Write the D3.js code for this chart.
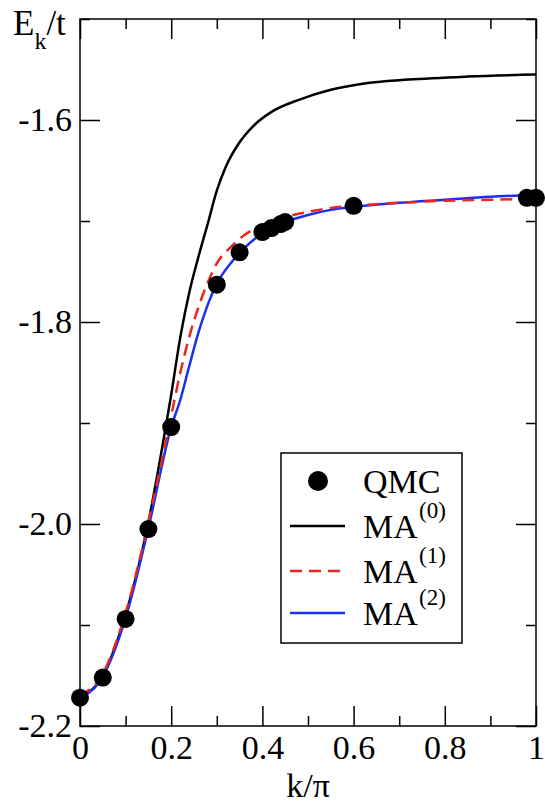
<!DOCTYPE html>
<html>
<head>
<meta charset="utf-8">
<script src="https://cdn.jsdelivr.net/npm/d3@7"></script>
</head>
<body style="margin:0; background:#fff">
<div id="chart-area"></div>
<script>
// QMC points
const qmcK = [0, 0.05, 0.1, 0.15, 0.2, 0.3, 0.35, 0.4, 0.42, 0.44, 0.45, 0.6, 0.98, 1.0]
const qmcE = [-2.172, -2.152, -2.094, -2.005, -1.904, -1.763, -1.731, -1.711, -1.707, -1.703, -1.701, -1.685, -1.677, -1.677]

// MA(0)
const ma0K = [0, 0.05, 0.1, 0.15, 0.18, 0.2, 0.22, 0.24, 0.26, 0.28, 0.3, 0.32, 0.35, 0.38, 0.42, 0.48, 0.55, 0.62, 0.72, 0.85, 1.0]
const ma0E = [-2.172, -2.150, -2.090, -1.998, -1.925, -1.872, -1.815, -1.770, -1.735, -1.703, -1.670, -1.646, -1.622, -1.606, -1.592, -1.580, -1.570, -1.564, -1.560, -1.557, -1.555]

// MA(1) and MA(2)
const maK = [0, 0.05, 0.1, 0.15, 0.2, 0.22, 0.24, 0.26, 0.28, 0.3, 0.33, 0.36, 0.4, 0.45, 0.5, 0.55, 0.6, 0.7, 0.8, 0.9, 1.0]
const ma1E = [-2.170, -2.148, -2.088, -1.998, -1.893, -1.850, -1.814, -1.785, -1.761, -1.742, -1.726, -1.714, -1.704, -1.696, -1.691, -1.687, -1.685, -1.682, -1.680, -1.679, -1.678]
const ma2E = [-2.172, -2.151, -2.093, -2.004, -1.904, -1.877, -1.843, -1.810, -1.783, -1.762, -1.742, -1.727, -1.712, -1.701, -1.694, -1.689, -1.686, -1.682, -1.679, -1.676, -1.674]

const xMajor = [0, 0.2, 0.4, 0.6, 0.8, 1]
const xMinor = [0.1, 0.3, 0.5, 0.7, 0.9]
const yMajor = [-2.2, -2.0, -1.8, -1.6]
const yMinor = [-2.1, -1.9, -1.7, -1.5]

const legendNames = ["QMC", "MA", "MA", "MA"]
const legendSups = ["", "(0)", "(1)", "(2)"]

const SERIF = "\"Liberation Serif\""
const MARGIN = { LEFT: 80, RIGHT: 9, TOP: 19, BOTTOM: 78 }
const WIDTH = 545 - MARGIN.LEFT - MARGIN.RIGHT
const HEIGHT = 804 - MARGIN.TOP - MARGIN.BOTTOM

const svg = d3.select("#chart-area").append("svg")
	.attr("width", 545)
	.attr("height", 804)

// everything inside this group gets the serif face
const root = svg.append("g")
	.attr("font-family", "Liberation Serif")
	.style("font-family", "Liberation Serif")

const g = root.append("g")
	.attr("transform", `translate(${MARGIN.LEFT}, ${MARGIN.TOP})`)

const x = d3.scaleLinear().domain([0, 1]).range([0, WIDTH])
const y = d3.scaleLinear().domain([-2.2, -1.5]).range([HEIGHT, 0])

const fmtX = d => (d === 0 || d === 1) ? String(d) : d.toFixed(1)
const fmtY = d => d.toFixed(1)

function styleAxis(sel) {
	sel.attr("font-family", "Liberation Serif").attr("font-size", 34)
	sel.select(".domain").remove()
	sel.selectAll(".tick line").attr("stroke", "#000").attr("stroke-width", 1.5)
	sel.selectAll(".tick text")
		.style("font-family", SERIF)
		.style("font-size", "34px")
		.attr("fill", "#000")
}

// bottom
g.append("g").attr("transform", `translate(0, ${HEIGHT})`)
	.call(d3.axisBottom(x).tickValues(xMajor).tickSize(-20).tickPadding(9).tickFormat(fmtX))
	.call(styleAxis)
g.append("g").attr("transform", `translate(0, ${HEIGHT})`)
	.call(d3.axisBottom(x).tickValues(xMinor).tickSize(-10).tickFormat(""))
	.call(styleAxis)
// top
g.append("g")
	.call(d3.axisTop(x).tickValues(xMajor).tickSize(-20).tickFormat(""))
	.call(styleAxis)
g.append("g")
	.call(d3.axisTop(x).tickValues(xMinor).tickSize(-10).tickFormat(""))
	.call(styleAxis)
// left
g.append("g")
	.call(d3.axisLeft(y).tickValues(yMajor).tickSize(-20).tickPadding(8).tickFormat(fmtY))
	.call(styleAxis)
g.append("g")
	.call(d3.axisLeft(y).tickValues(yMinor).tickSize(-10).tickFormat(""))
	.call(styleAxis)
// right
g.append("g").attr("transform", `translate(${WIDTH}, 0)`)
	.call(d3.axisRight(y).tickValues(yMajor).tickSize(-20).tickFormat(""))
	.call(styleAxis)
g.append("g").attr("transform", `translate(${WIDTH}, 0)`)
	.call(d3.axisRight(y).tickValues(yMinor).tickSize(-10).tickFormat(""))
	.call(styleAxis)

// frame
g.append("rect")
	.attr("width", WIDTH).attr("height", HEIGHT)
	.attr("fill", "none").attr("stroke", "#000").attr("stroke-width", 1.5)

// curves
const line = d3.line()
	.x(d => x(d[0]))
	.y(d => y(d[1]))
	.curve(d3.curveMonotoneX)

const zip = (a, b) => a.map((v, i) => [v, b[i]])

const series = [
	{ pts: zip(ma0K, ma0E), color: "#000", dash: null },
	{ pts: zip(maK, ma2E), color: "#1a30f0", dash: null },
	{ pts: zip(maK, ma1E), color: "#e8281e", dash: "12,7" }
]

g.selectAll("path.curve").data(series).enter().append("path")
	.attr("class", "curve")
	.attr("d", d => line(d.pts))
	.attr("fill", "none")
	.attr("stroke", d => d.color)
	.attr("stroke-width", 2.5)
	.attr("stroke-dasharray", d => d.dash)

g.selectAll("circle.qmc").data(zip(qmcK, qmcE)).enter().append("circle")
	.attr("class", "qmc")
	.attr("cx", d => x(d[0]))
	.attr("cy", d => y(d[1]))
	.attr("r", 9)
	.attr("fill", "#000")

// axis titles
const yt = root.append("text").attr("x", 13).attr("y", 35)
	.style("font-family", SERIF).style("font-size", "35px")
yt.append("tspan").text("E")
yt.append("tspan").attr("dy", 14).style("font-size", "24px").text("k")
yt.append("tspan").attr("dy", -14).text("/t")

root.append("text")
	.attr("x", MARGIN.LEFT + WIDTH / 2)
	.attr("y", 797)
	.attr("text-anchor", "middle")
	.style("font-family", SERIF)
	.style("font-size", "34px")
	.text("k/π")

// legend
const lg = root.append("g").attr("transform", "translate(281, 453)")
lg.append("rect")
	.attr("width", 181).attr("height", 190)
	.attr("fill", "#fff").attr("stroke", "#000").attr("stroke-width", 1.5)

const rowY = [28, 73, 118, 160]
const rows = lg.selectAll("g.row").data(legendNames).enter().append("g")
	.attr("class", "row")
	.attr("transform", (d, i) => `translate(0, ${rowY[i]})`)

rows.append("text")
	.attr("x", 82).attr("y", 12)
	.style("font-family", SERIF)
	.style("font-size", "34px")
	.text(d => d)
rows.append("text")
	.attr("x", 138).attr("y", -8)
	.style("font-family", SERIF)
	.style("font-size", "23px")
	.text((d, i) => legendSups[i])

rows.filter((d, i) => i === 0).append("circle")
	.attr("cx", 37).attr("cy", 0).attr("r", 10).attr("fill", "#000")
rows.filter((d, i) => i > 0).append("line")
	.attr("x1", 9).attr("x2", 64)
	.attr("stroke", (d, i) => series[[0, 2, 1][i]].color)
	.attr("stroke-width", 2.5)
	.attr("stroke-dasharray", (d, i) => series[[0, 2, 1][i]].dash)

// make sure the serif face is applied once it is ready
if (document.fonts && document.fonts.load) {
	document.fonts.load("34px " + SERIF).then(() => {
		root.selectAll("text").style("font-family", SERIF)
	})
}
</script>
</body>
</html>
